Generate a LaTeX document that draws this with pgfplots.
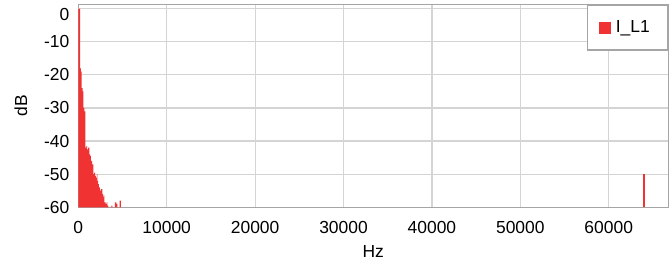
\documentclass[border=0pt]{standalone}
\usepackage{fontspec}
\setmainfont{Liberation Sans}
\usepackage{pgfplots}
\pgfplotsset{compat=1.18}
\definecolor{barred}{RGB}{240,50,50}
\definecolor{gridgrey}{RGB}{212,212,212}
\definecolor{framegrey}{RGB}{165,165,165}
\begin{document}
\fontsize{17.5}{21}\selectfont
\begin{tikzpicture}
\path[use as bounding box] (-78.3bp,-53.7bp) rectangle (591.7bp,207.3bp);
\begin{axis}[
  at={(0,0)}, anchor=south west,
  scale only axis, width=590bp, height=202.6bp,
  xmin=0, xmax=66740, ymin=-60, ymax=1.2,
  xtick={0,10000,20000,30000,40000,50000,60000},
  ytick={-60,-50,-40,-30,-20,-10},
  extra y ticks={0},
  extra y tick style={grid=major, yticklabel style={yshift=-6bp}},
  scaled x ticks=false,
  xticklabel style={/pgf/number format/1000 sep={}, yshift=-8bp},
  yticklabel style={xshift=-3bp},
  /pgf/number format/assume math mode=true,
  grid=major,
  major grid style={gridgrey, line width=1.2bp},
  axis line style={framegrey, line width=1.2bp},
  major tick length=0pt,
  tick label style={font=\fontsize{17.5}{21}\selectfont},
  label style={font=\fontsize{17.5}{21}\selectfont},
  xlabel={Hz}, ylabel={dB},
  xlabel shift=0bp, ylabel shift=5bp,
  legend style={at={(1,1)}, anchor=north east, draw=framegrey, line width=1.2bp,
    fill=white, font=\fontsize{17.5}{21}\selectfont, inner xsep=11bp, inner ysep=12bp,
    nodes={inner sep=3bp}},
  legend image code/.code={\fill[barred] (0bp,-6bp) rectangle (12bp,6bp);},
]
\addplot[const plot, fill=barred, draw=none] coordinates {
(0,-60) (0,0) (200,-18) (300,-19) (370,-24) (500,-25) (565,-30) (700,-31)
(790,-42) (900,-41.5) (1000,-42.5) (1100,-42) (1240,-44) (1340,-44.5) (1435,-46)
(1550,-47) (1700,-50) (1800,-49.5) (1900,-50.5) (2000,-51) (2100,-50)
(2150,-52) (2250,-53) (2340,-54) (2450,-55) (2550,-54.5) (2710,-56)
(2800,-57) (2870,-56.5) (2940,-58.5) (3100,-59) (3200,-58.5) (3300,-59.5)
(3400,-60) (3750,-59.5) (3850,-60) (4150,-58.5) (4300,-59) (4420,-60)
(4680,-58) (4820,-60)
};
\addlegendentry{\hspace*{2bp}I\_L1\rule{4bp}{0bp}}
\addplot[barred, line width=1.3bp, forget plot] coordinates {(64000,-60) (64000,-50)};
\end{axis}
\end{tikzpicture}
\end{document}
